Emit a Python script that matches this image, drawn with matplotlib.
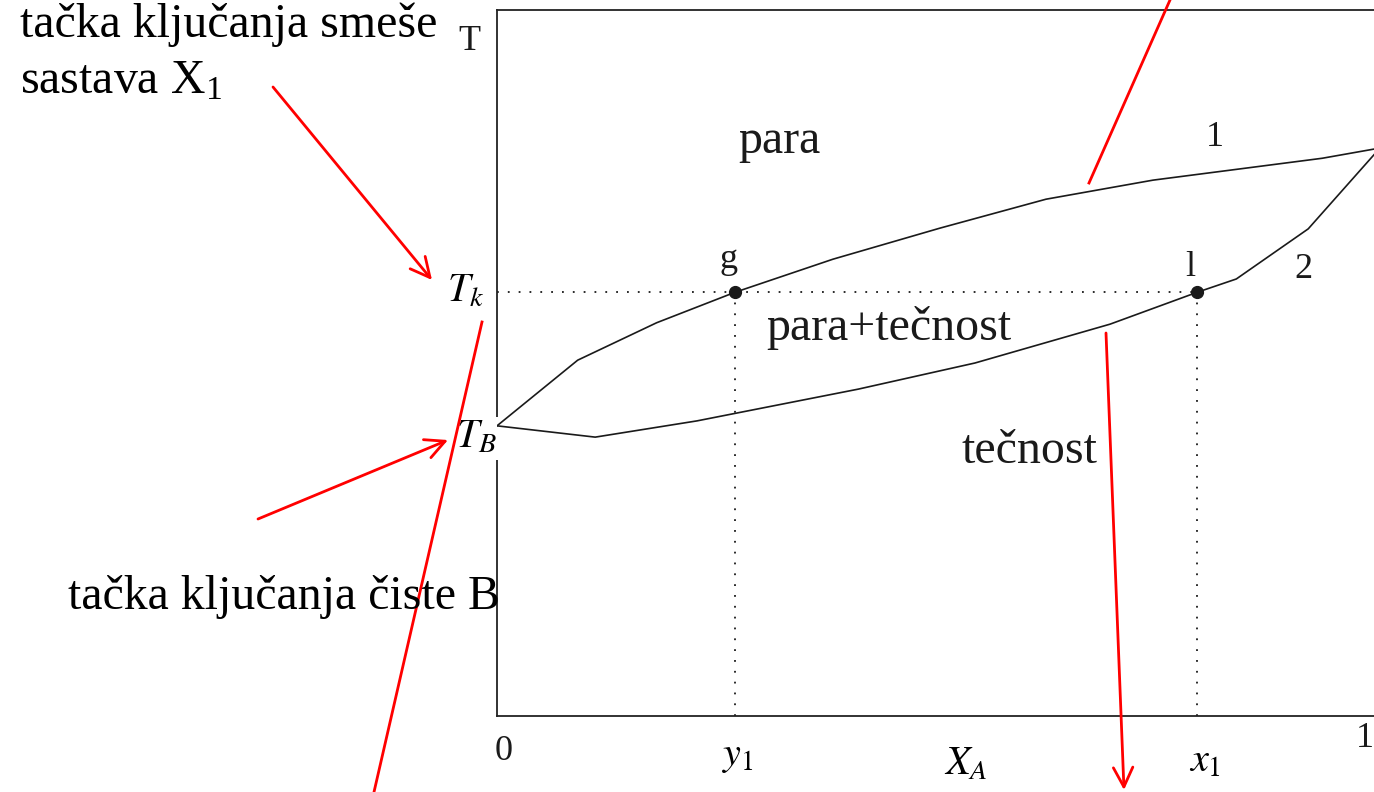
import matplotlib.pyplot as plt

plt.rcParams['font.family'] = ['Liberation Serif', 'DejaVu Serif']
plt.rcParams['mathtext.fontset'] = 'stix'

# boiling diagram of a binary mixture A-B, T against mole fraction of A
x_vapor = [0.0, 0.092, 0.182, 0.271, 0.383, 0.505, 0.626, 0.748, 0.941, 1.0]
T_vapor = [0.411, 0.504, 0.557, 0.600, 0.647, 0.691, 0.732, 0.759, 0.790, 0.803]
x_liquid = [0.0, 0.112, 0.228, 0.412, 0.545, 0.699, 0.798, 0.843, 0.925, 1.0]
T_liquid = [0.411, 0.395, 0.418, 0.463, 0.500, 0.555, 0.600, 0.619, 0.690, 0.795]

T_k = 0.600
T_B = 0.411
y_1 = 0.271
x_1 = 0.798

fig = plt.figure(figsize=(13.74, 7.92), dpi=100)
ax = fig.add_axes([497 / 1374, 76 / 792, 877 / 1374, 706 / 792])
ax.set_xlim(0, 1)
ax.set_ylim(0, 1)
ax.spines['right'].set_visible(False)
for s in ['left', 'top', 'bottom']:
    ax.spines[s].set_linewidth(1.3)
    ax.spines[s].set_color('#222222')
ax.set_xticks([])
ax.set_yticks([])

lc = '#1a1a1a'
ax.plot(x_vapor, T_vapor, color=lc, lw=1.2, zorder=4)
ax.plot(x_liquid, T_liquid, color=lc, lw=1.2, zorder=4)

dots = (0, (1, 5))
ax.plot([0, x_1], [T_k, T_k], color=lc, lw=1.3, linestyle=dots)
ax.plot([y_1, y_1], [0, T_k], color=lc, lw=1.3, linestyle=dots)
ax.plot([x_1, x_1], [0, T_k], color=lc, lw=1.3, linestyle=dots)
ax.plot([y_1, x_1], [T_k, T_k], 'o', color=lc, markersize=8.5, zorder=5)

small = 26
mathsz = 29
big = 34.5
ax.text(0.2645, 0.646, 'g', fontsize=small, ha='center', va='center', color=lc)
ax.text(0.790, 0.635, 'l', fontsize=small, ha='center', va='center', color=lc)
ax.text(0.819, 0.820, '1', fontsize=small, ha='center', va='center', color=lc)
ax.text(0.919, 0.632, '2', fontsize=small, ha='center', va='center', color=lc)
ax.text(0.322, 0.815, 'para', fontsize=big, ha='center', va='center', color=lc)
ax.text(0.447, 0.549, 'para+tečnost', fontsize=big, ha='center', va='center', color=lc)
ax.text(0.607, 0.375, 'tečnost', fontsize=big, ha='center', va='center', color=lc)

# axis labels placed as text
ax.text(-0.032, 0.955, 'T', fontsize=small, ha='center', va='center', color=lc, clip_on=False)
ax.text(-0.014, T_k, r'$T_k$', fontsize=mathsz, ha='right', va='center',
        clip_on=False, color='black')
ax.text(0.0, T_B - 0.018, r'$T_B$', fontsize=mathsz, ha='right', va='center',
        clip_on=False, color='black', zorder=3,
        bbox=dict(facecolor='white', edgecolor='none', pad=2))
ax.text(0.007, -0.05, '0', fontsize=small, ha='center', va='center', color=lc, clip_on=False)
ax.text(y_1 + 0.004, -0.058, r'$y_1$', fontsize=mathsz, ha='center', va='center', clip_on=False)
ax.text(0.535, -0.07, r'$X_A$', fontsize=mathsz, ha='center', va='center', clip_on=False)
ax.text(x_1 + 0.009, -0.065, r'$x_1$', fontsize=mathsz, ha='center', va='center', clip_on=False)
ax.text(1.0, -0.032, '1', fontsize=small, ha='right', va='center', color=lc, clip_on=False)

# overlay in pixel units for the side notes and red pointers
ov = fig.add_axes([0, 0, 1, 1], zorder=10)
ov.set_xlim(0, 1374)
ov.set_ylim(792, 0)
ov.axis('off')
ov.patch.set_alpha(0)

ov.text(20, 25, 'tačka ključanja smeše', fontsize=big, ha='left', va='center')
ov.text(20, 82, 'sastava X$_{\\mathregular{1}}$', fontsize=big, ha='left', va='center')
ov.text(68, 597, 'tačka ključanja čiste B', fontsize=big, ha='left', va='center')

red = dict(arrowstyle='->,head_length=0.7,head_width=0.35', color='red', lw=2,
           mutation_scale=20, shrinkA=0, shrinkB=0)
ov.annotate('', xy=(432, 280), xytext=(273, 87), arrowprops=red)
ov.annotate('', xy=(448, 440), xytext=(258, 519), arrowprops=red)
ov.annotate('', xy=(1124, 790), xytext=(1106, 333), arrowprops=red)
ov.plot([482, 374], [322, 792], color='red', lw=2)
ov.plot([1089, 1170], [183, 0], color='red', lw=2)

fig.savefig('out.png', dpi=100)
